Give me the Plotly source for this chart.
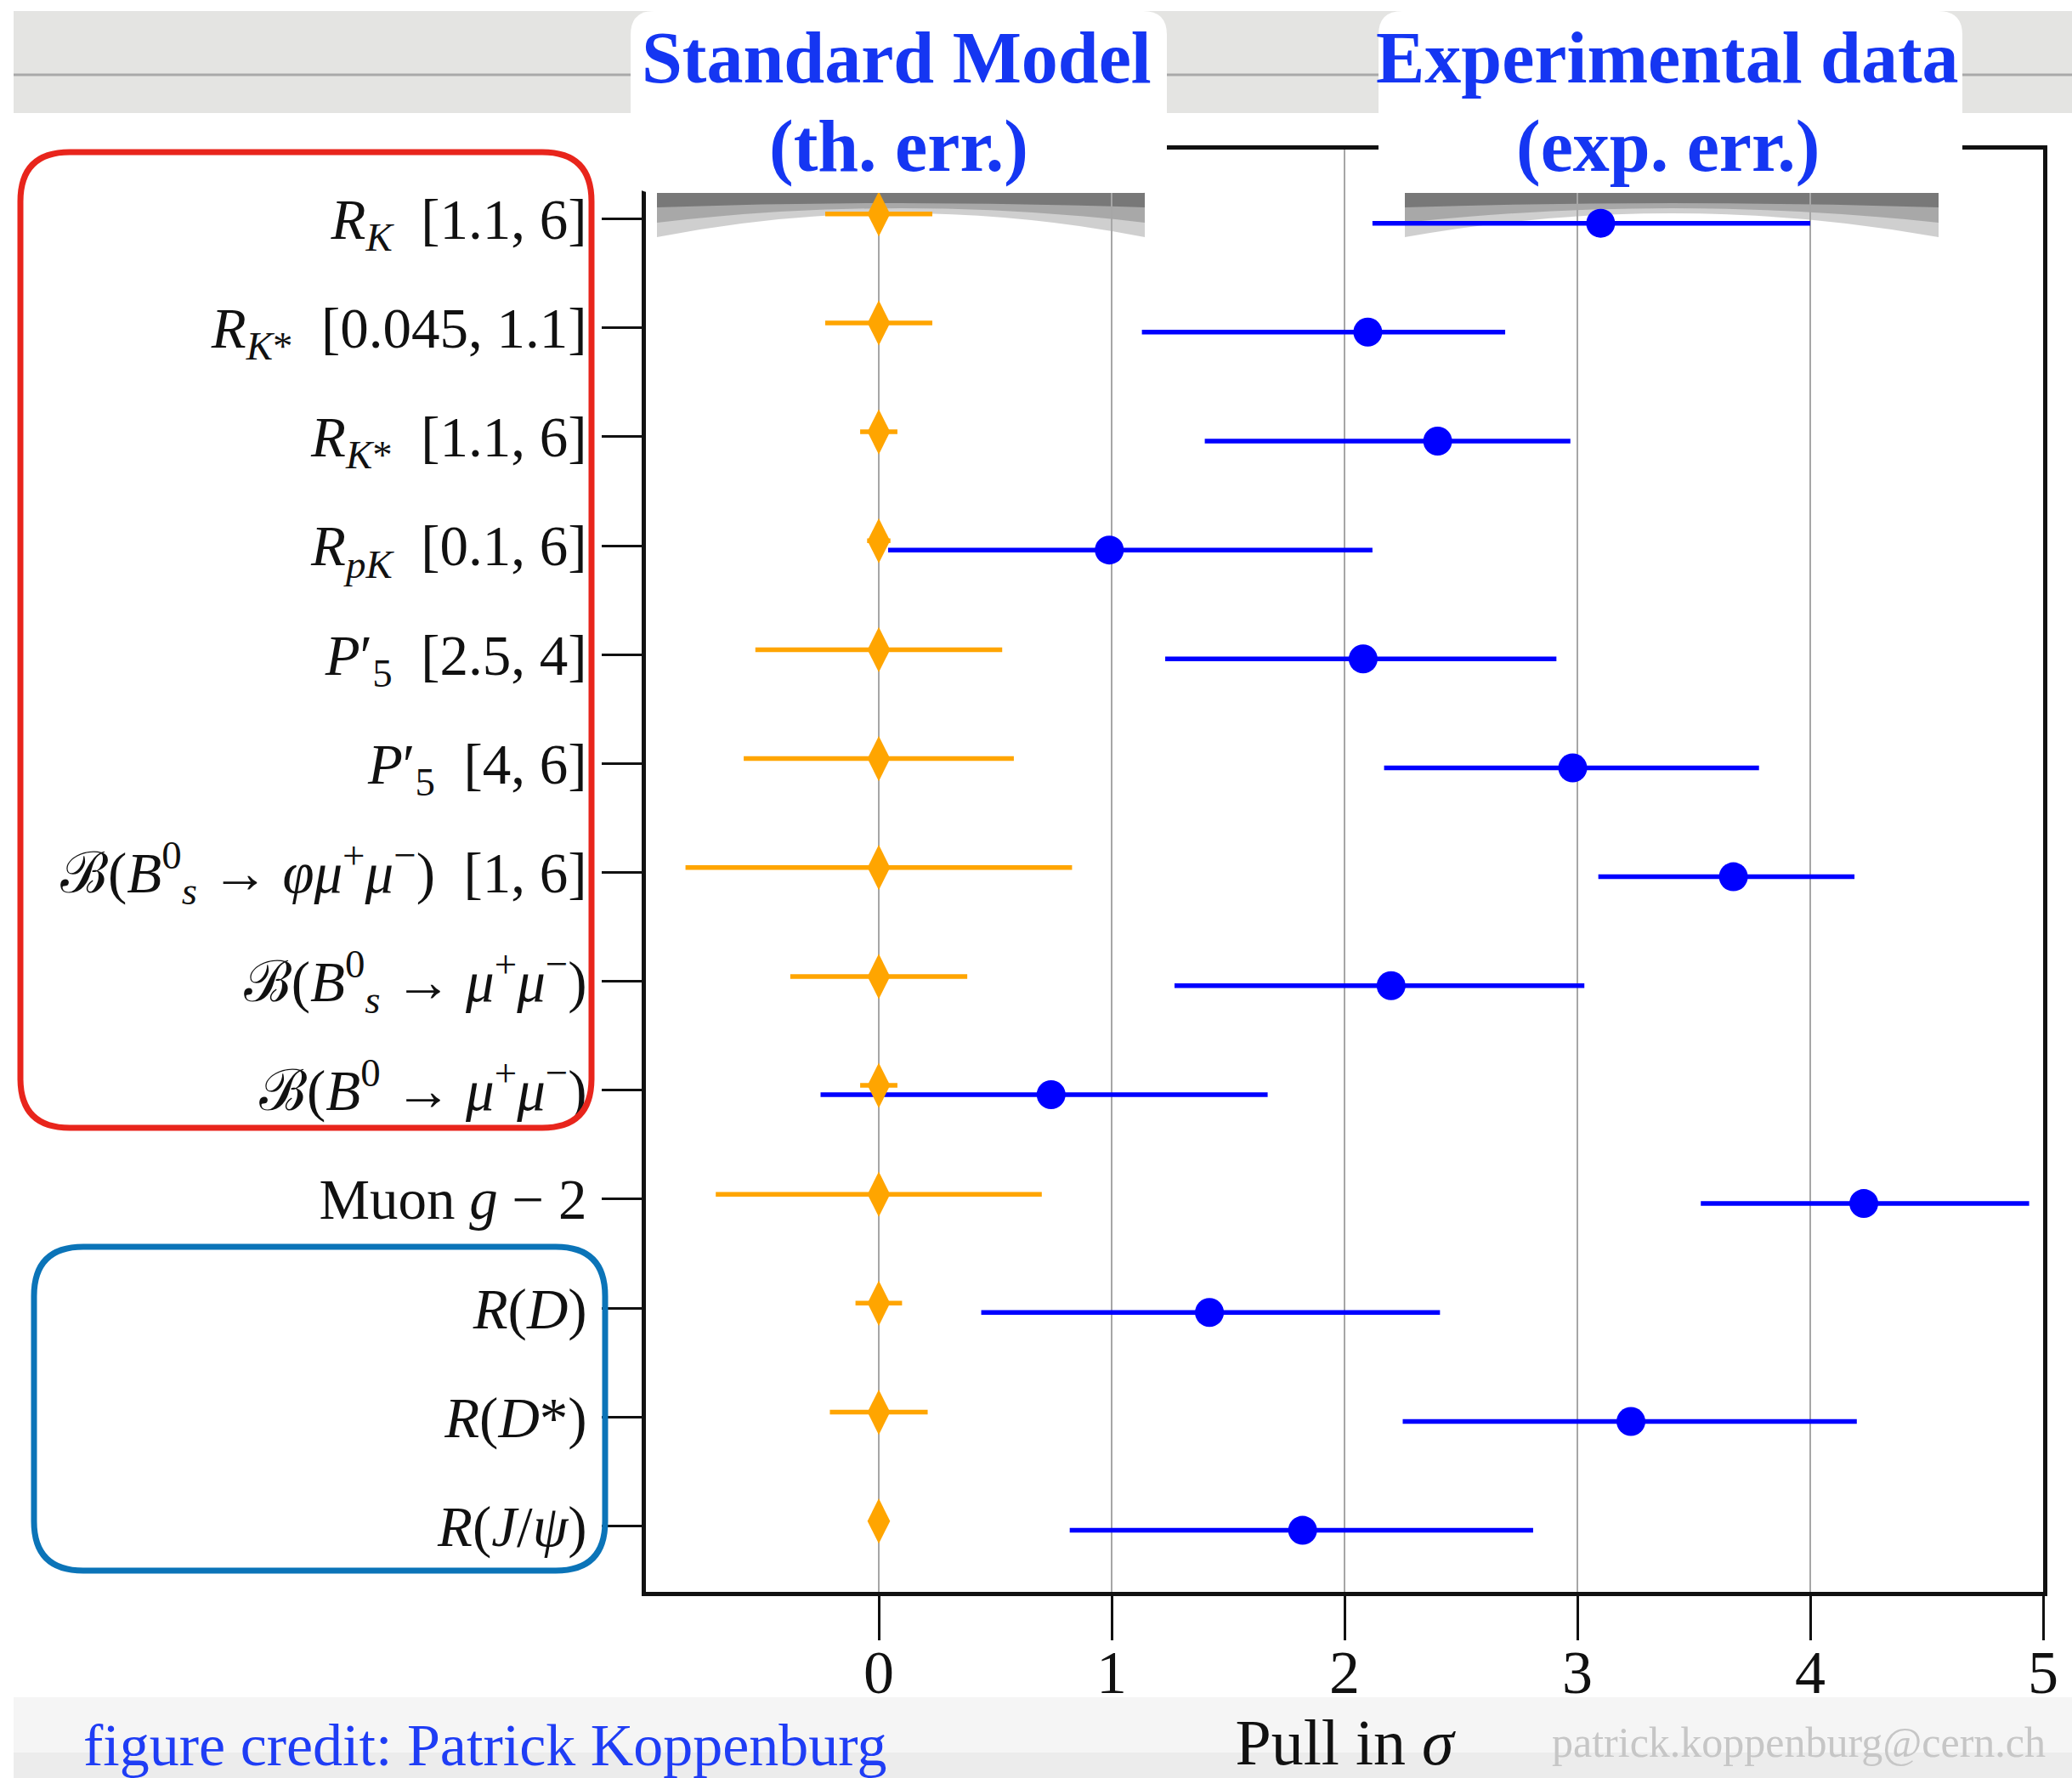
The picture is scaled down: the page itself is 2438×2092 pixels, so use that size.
import plotly.graph_objects as go

# ---------------- data ----------------
labels = [
    "<i>R</i><sub><i>K</i></sub>\u00a0\u00a0[1.1, 6]",
    "<i>R</i><sub><i>K</i>*</sub>\u00a0\u00a0[0.045, 1.1]",
    "<i>R</i><sub><i>K</i>*</sub>\u00a0\u00a0[1.1, 6]",
    "<i>R</i><sub><i>pK</i></sub>\u00a0\u00a0[0.1, 6]",
    "<i>P</i>\u2032<sub>5</sub>\u00a0\u00a0[2.5, 4]",
    "<i>P</i>\u2032<sub>5</sub>\u00a0\u00a0[4, 6]",
    "\u212c(<i>B</i><sup>0</sup><sub><i>s</i></sub> \u2192 <i>\u03c6\u03bc</i><sup>+</sup><i>\u03bc</i><sup>\u2212</sup>)\u00a0\u00a0[1, 6]",
    "\u212c(<i>B</i><sup>0</sup><sub><i>s</i></sub> \u2192 <i>\u03bc</i><sup>+</sup><i>\u03bc</i><sup>\u2212</sup>)",
    "\u212c(<i>B</i><sup>0</sup> \u2192 <i>\u03bc</i><sup>+</sup><i>\u03bc</i><sup>\u2212</sup>)",
    "Muon <i>g</i> \u2212 2",
    "<i>R</i>(<i>D</i>)",
    "<i>R</i>(<i>D</i>*)",
    "<i>R</i>(<i>J</i>/<i>\u03c8</i>)",
]

sm_center = [0, 0, 0, 0, 0, 0, 0, 0, 0, 0, 0, 0, 0]
sm_err = [0.23, 0.23, 0.08, 0.05, 0.53, 0.58, 0.83, 0.38, 0.08, 0.70, 0.10, 0.21, 0.0]

exp_center = [3.10, 2.10, 2.40, 0.99, 2.08, 2.98, 3.67, 2.20, 0.74, 4.23, 1.42, 3.23, 1.82]
exp_low = [2.12, 1.13, 1.40, 0.04, 1.23, 2.17, 3.09, 1.27, -0.25, 3.53, 0.44, 2.25, 0.82]
exp_high = [4.00, 2.69, 2.97, 2.12, 2.91, 3.78, 4.19, 3.03, 1.67, 4.94, 2.41, 4.20, 2.81]

x_ticks = [0, 1, 2, 3, 4, 5]

# ---------------- geometry helpers ----------------
W, H = 2438, 2092
L, R, T, B = 760, 34, 176, 219
PW = W - L - R
PH = H - T - B


def px(x):
    return (x - L) / PW


def py(y):
    return (H - B - y) / PH


def rrect(x0, y0, x1, y1, r):
    return (
        f"M {px(x0 + r)},{py(y0)} L {px(x1 - r)},{py(y0)} "
        f"Q {px(x1)},{py(y0)} {px(x1)},{py(y0 + r)} "
        f"L {px(x1)},{py(y1 - r)} Q {px(x1)},{py(y1)} {px(x1 - r)},{py(y1)} "
        f"L {px(x0 + r)},{py(y1)} Q {px(x0)},{py(y1)} {px(x0)},{py(y1 - r)} "
        f"L {px(x0)},{py(y0 + r)} Q {px(x0)},{py(y0)} {px(x0 + r)},{py(y0)} Z"
    )


def shadow(x0, x1, ytop, yend, ymid):
    xm = (x0 + x1) / 2
    c = 2 * ymid - yend
    return (f"M {px(x0)},{py(ytop)} L {px(x1)},{py(ytop)} L {px(x1)},{py(yend)} "
            f"Q {px(xm)},{py(c)} {px(x0)},{py(yend)} Z")


n = len(labels)
ypos = [n - 1 - i for i in range(n)]
minus = [c - lo for c, lo in zip(exp_center, exp_low)]
plus = [hi - c for c, hi in zip(exp_center, exp_high)]

BLUE = "#0000ff"
ORANGE = "#ffa500"
HEAD_BLUE = "#1536f2"

fig = go.Figure()

fig.add_trace(go.Scatter(
    x=exp_center, y=[p - 0.04 for p in ypos], mode="markers",
    marker=dict(symbol="circle", size=34, color=BLUE),
    error_x=dict(type="data", symmetric=False, array=plus, arrayminus=minus,
                 color=BLUE, thickness=5.5, width=0),
    name="Experimental data", hoverinfo="x+y",
))
fig.add_trace(go.Scatter(
    x=sm_center, y=[p + 0.045 for p in ypos], mode="markers",
    marker=dict(symbol="diamond-tall", size=38, color=ORANGE),
    error_x=dict(type="data", array=sm_err, color=ORANGE, thickness=5.5, width=0),
    name="Standard Model", hoverinfo="x+y",
))

shapes = []
# top grey band
shapes.append(dict(type="rect", xref="paper", yref="paper", layer="below",
                   x0=px(16), x1=px(W), y0=py(133), y1=py(13),
                   fillcolor="#e4e4e2", line=dict(width=0)))
shapes.append(dict(type="line", xref="paper", yref="paper", layer="below",
                   x0=px(16), x1=px(W), y0=py(88), y1=py(88),
                   line=dict(color="#a9a9a9", width=3)))
# bottom light band
shapes.append(dict(type="rect", xref="paper", yref="paper", layer="below",
                   x0=px(16), x1=px(W), y0=py(H), y1=py(1997),
                   fillcolor="#f5f5f5", line=dict(width=0)))
shapes.append(dict(type="rect", xref="paper", yref="paper", layer="below",
                   x0=px(16), x1=px(W), y0=py(H), y1=py(2062),
                   fillcolor="#ececec", line=dict(width=0)))
# torn-paper shadows beneath the headers
for (a, b) in [(773, 1347), (1653, 2281)]:
    shapes.append(dict(type="path", xref="paper", yref="paper", layer="below",
                       path=shadow(a, b, 224, 279, 251),
                       fillcolor="rgba(175,175,175,0.6)", line=dict(width=0)))
    shapes.append(dict(type="path", xref="paper", yref="paper", layer="below",
                       path=shadow(a, b, 224, 262, 245),
                       fillcolor="rgba(130,130,130,0.5)", line=dict(width=0)))
    shapes.append(dict(type="path", xref="paper", yref="paper", layer="below",
                       path=shadow(a, b, 224, 244, 239),
                       fillcolor="rgba(80,80,80,0.55)", line=dict(width=0)))
# white header boxes
for (a, b) in [(742, 1373), (1622, 2309)]:
    shapes.append(dict(type="path", xref="paper", yref="paper", layer="above",
                       path=rrect(a, 13, b, 227, 28),
                       fillcolor="#ffffff", line=dict(width=0)))
# highlight boxes around label groups
shapes.append(dict(type="path", xref="paper", yref="paper", layer="above",
                   path=rrect(24, 179, 696, 1327, 58),
                   fillcolor="rgba(0,0,0,0)", line=dict(color="#e8251c", width=7)))
shapes.append(dict(type="path", xref="paper", yref="paper", layer="above",
                   path=rrect(40, 1467, 712, 1848, 58),
                   fillcolor="rgba(0,0,0,0)", line=dict(color="#0b74b8", width=7)))

annotations = []
head_font = dict(family="Liberation Serif", size=86, color=HEAD_BLUE)
for txt, xc, yc in [("<b>Standard Model</b>", 1055, 68),
                    ("<b>(th. err.)</b>", 1057, 172),
                    ("<b>Experimental data</b>", 1962, 68),
                    ("<b>(exp. err.)</b>", 1962, 172)]:
    annotations.append(dict(text=txt, xref="paper", yref="paper", x=px(xc), y=py(yc),
                            xanchor="center", yanchor="middle", showarrow=False,
                            font=head_font))
annotations.append(dict(text="figure credit: Patrick Koppenburg", xref="paper", yref="paper",
                        x=px(96), y=py(2053), xanchor="left", yanchor="middle",
                        showarrow=False,
                        font=dict(family="Liberation Serif", size=70, color="#1f3df5")))
annotations.append(dict(text="patrick.koppenburg@cern.ch", xref="paper", yref="paper",
                        x=px(1824), y=py(2050), xanchor="left", yanchor="middle",
                        showarrow=False,
                        font=dict(family="Liberation Serif", size=50, color="#c6c6c6")))

fig.update_layout(
    width=W, height=H,
    margin=dict(l=L, r=R, t=T, b=B, autoexpand=False),
    paper_bgcolor="#ffffff",
    plot_bgcolor="rgba(0,0,0,0)",
    showlegend=False,
    shapes=shapes,
    annotations=annotations,
    font=dict(family="Liberation Serif", color="#111111"),
)

fig.update_xaxes(
    range=[-1, 5], tickvals=x_ticks, ticktext=[str(v) for v in x_ticks],
    showgrid=True, gridcolor="#a6a6a6", gridwidth=2, zeroline=False,
    showline=True, linecolor="#111111", linewidth=5, mirror=True,
    ticks="outside", ticklen=52, tickwidth=3, tickcolor="#111111",
    ticklabelstandoff=-24,
    tickfont=dict(family="Liberation Serif", size=72, color="#111111"),
    title=dict(text="Pull in <i>\u03c3</i>", standoff=18,
               font=dict(family="Liberation Serif", size=76, color="#111111")),
    automargin=False,
)
fig.update_yaxes(
    range=[-0.605, 12.636], tickvals=ypos, ticktext=labels,
    showgrid=False, zeroline=False,
    showline=True, linecolor="#111111", linewidth=5, mirror=True,
    ticks="outside", ticklen=47, tickwidth=3, tickcolor="#111111",
    ticklabelstandoff=4,
    tickfont=dict(family="Liberation Serif", size=67, color="#111111"),
    automargin=False,
)

fig.write_html("out.html")
